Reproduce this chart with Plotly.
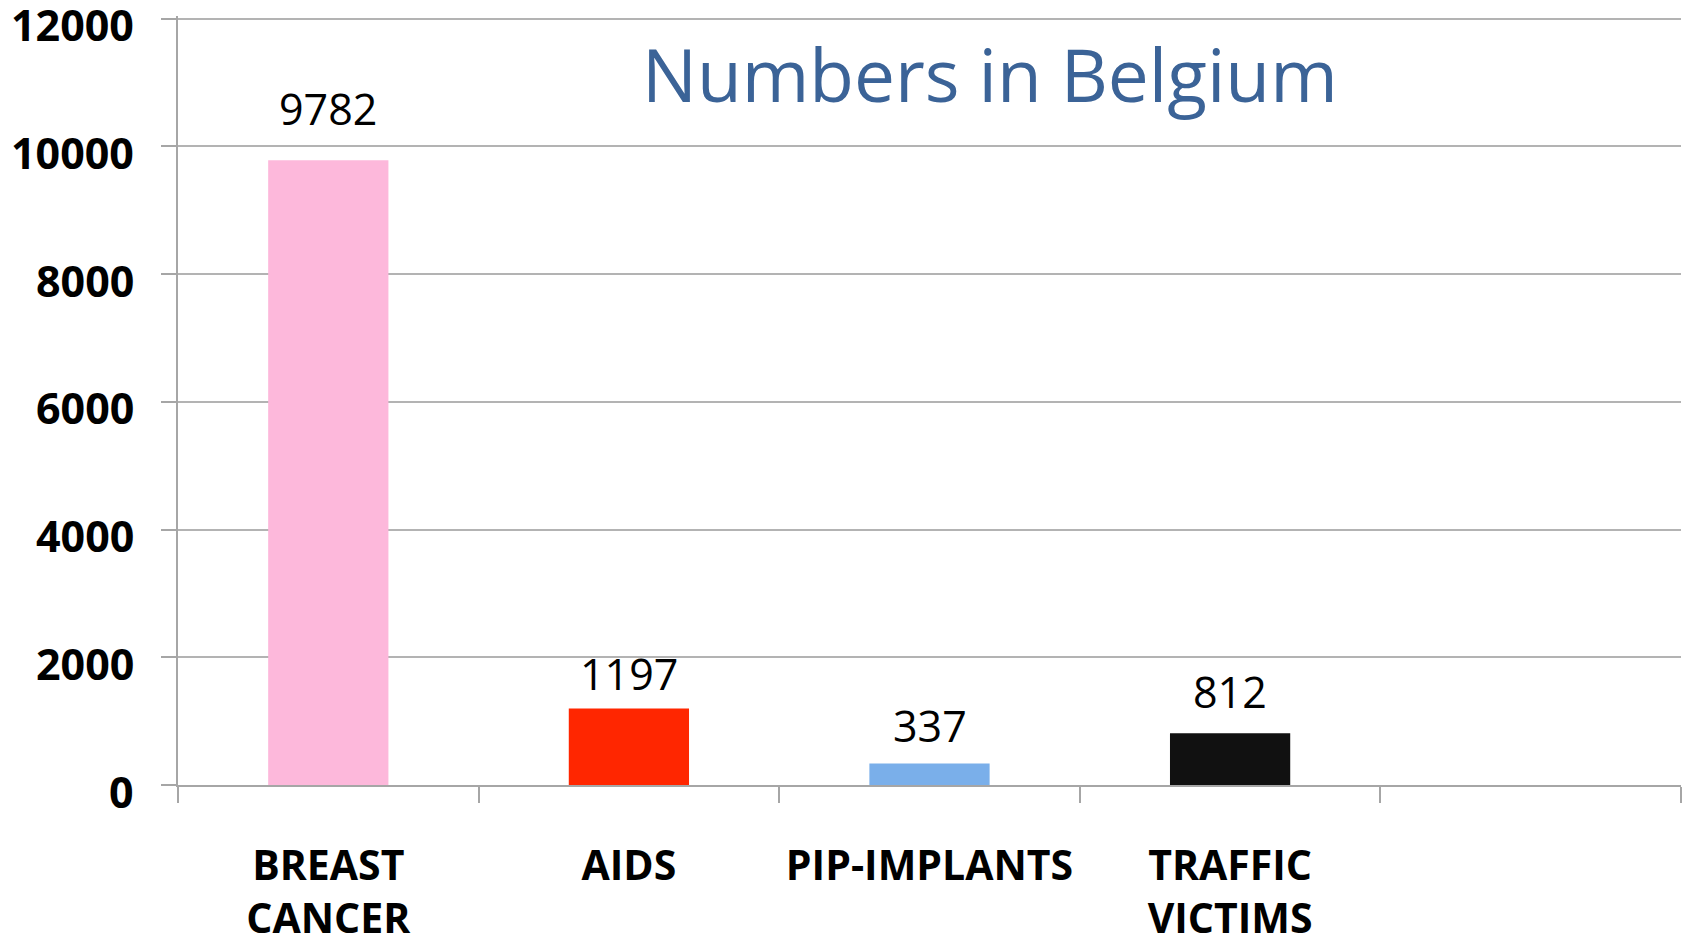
import plotly.graph_objects as go

categories = ["BREAST<br>CANCER", "AIDS", "PIP-IMPLANTS", "TRAFFIC<br>VICTIMS", " "]
values = [9782, 1197, 337, 812, None]
bar_colors = ["#FDB8DB", "#FF2600", "#7AAFEA", "#111111", "#FFFFFF"]
label_shift = [20, 4, 6, 10]
y_ticks = [0, 2000, 4000, 6000, 8000, 10000, 12000]
y_tick_labels = ["0", "2000", "4000", "6000", "8000", "10000", "12000"]
title_text = "Numbers in Belgium"

fig = go.Figure()
fig.add_trace(go.Bar(
    x=categories, y=values,
    marker=dict(color=bar_colors, line=dict(width=0)),
    width=0.4,
    hoverinfo="skip",
))

for c, v, s in zip(categories, values, label_shift):
    fig.add_annotation(
        x=c, y=v, text=str(v), showarrow=False, yanchor="bottom", yshift=s,
        font=dict(family="Open Sans", size=43, color="#000000"),
    )

# y-axis tick labels (slightly below their gridlines, as in the original)
for t, lab in zip(y_ticks, y_tick_labels):
    fig.add_annotation(
        xref="paper", yref="y", x=0, y=t, text=f"<b>{lab}</b>", showarrow=False,
        xanchor="right", yanchor="middle", xshift=-42, yshift=-6,
        font=dict(family="Open Sans", size=43, color="#000000"),
    )

fig.add_annotation(
    xref="paper", yref="paper", x=0.540, y=0.925, text=title_text,
    showarrow=False, xanchor="center", yanchor="middle",
    font=dict(family="Open Sans", size=73, color="#3B6397"),
)

fig.update_layout(
    width=1693, height=945,
    margin=dict(l=178, r=12, t=16, b=160),
    paper_bgcolor="white", plot_bgcolor="white",
    showlegend=False,
    xaxis=dict(
        type="category",
        tickson="boundaries",
        automargin=False,
        tickangle=0,
        ticks="outside", ticklen=16, tickcolor="#A6A6A6", tickwidth=1.5,
        showgrid=False,
        showline=True, linecolor="#A6A6A6", linewidth=1.5,
        tickfont=dict(family="Open Sans", size=41, color="#000000", weight="bold"),
        ticklabelstandoff=44,
        ticklabeloverflow="allow",
        range=[-0.5, 4.5],
    ),
    yaxis=dict(
        range=[0, 12040],
        automargin=False,
        tickvals=y_ticks,
        showticklabels=False,
        ticks="outside", ticklen=15, tickcolor="#A6A6A6", tickwidth=1.5,
        showgrid=True, gridcolor="#B3B3B3", gridwidth=1.5,
        showline=True, linecolor="#A6A6A6", linewidth=1.5,
        zeroline=False,
    ),
)

fig.write_html(
    "out.html",
    config={"displayModeBar": False},
    post_script="document.body.style.margin='0px';",
)
